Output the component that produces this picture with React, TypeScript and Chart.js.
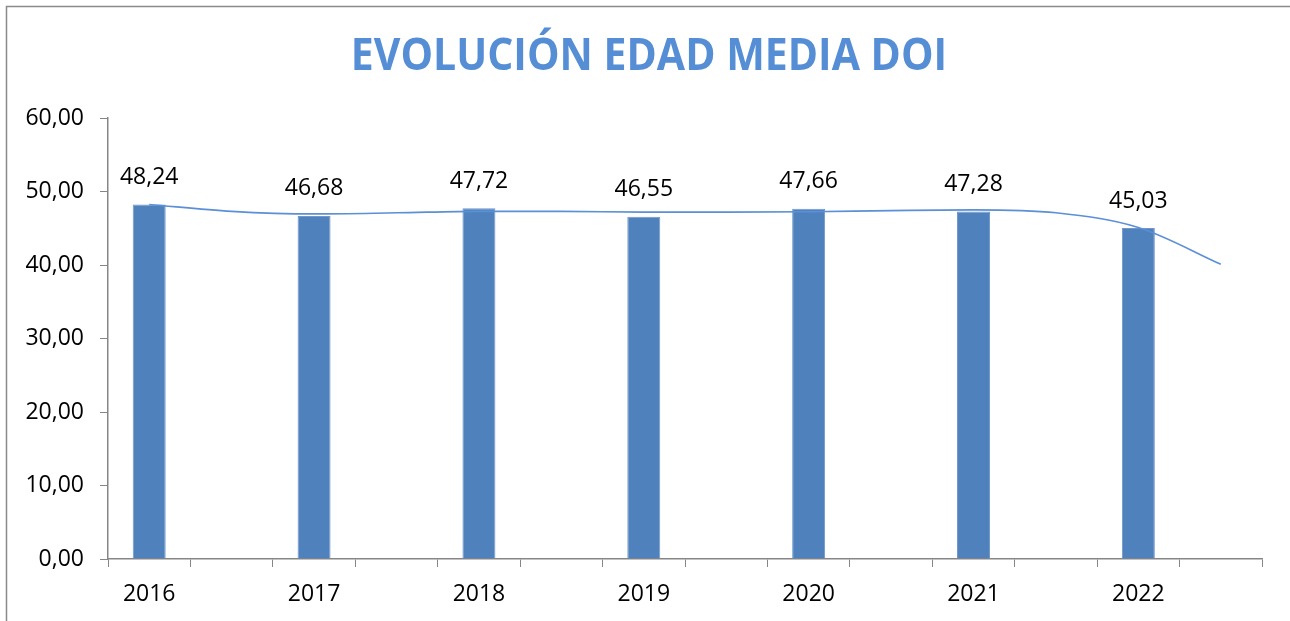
import React, { useEffect, useRef } from "react";
import { Chart, registerables } from "chart.js";

Chart.register(...registerables);

const TITLE = "EVOLUCIÓN EDAD MEDIA DOI";
// 14 category slots: each year followed by an empty slot (as in the original sheet)
const categories = ["2016", "", "2017", "", "2018", "", "2019", "", "2020", "", "2021", "", "2022", ""];
const ageValues = [48.24, null, 46.68, null, 47.72, null, 46.55, null, 47.66, null, 47.28, null, 45.03, null];
// polynomial trendline at each slot centre
const trendValues = [48.24, 47.3, 46.95, 47.1, 47.3, 47.3, 47.2, 47.2, 47.25, 47.4, 47.5, 47.1, 45.1, 40.1];
const yTicks = { min: 0, max: 60, step: 10 };

const fmt = (v: number) => v.toFixed(2).replace(".", ",");
const FONT = "'Open Sans', 'Liberation Sans', sans-serif";

const decorPlugin = {
  id: "decor",
  beforeDraw(chart: any) {
    const ctx = chart.ctx;
    ctx.save();
    ctx.fillStyle = "#ffffff";
    ctx.fillRect(0, 0, chart.width, chart.height);
    ctx.strokeStyle = "#8a8a8a";
    ctx.lineWidth = 1.5;
    ctx.strokeRect(6.5, 6.5, chart.width + 50, chart.height + 50);
    ctx.fillStyle = "#558ED5";
    ctx.font = `bold 41px ${FONT}`;
    ctx.textAlign = "center";
    ctx.textBaseline = "middle";
    ctx.translate(649, 57);
    ctx.scale(1, 1.1);
    ctx.fillText(TITLE, 0, 0);
    ctx.restore();
  },
  afterDatasetsDraw(chart: any) {
    const ctx = chart.ctx;
    const meta = chart.getDatasetMeta(0);
    const data = chart.data.datasets[0].data;
    ctx.save();
    ctx.fillStyle = "#000000";
    ctx.font = `23px ${FONT}`;
    ctx.textAlign = "center";
    ctx.textBaseline = "middle";
    meta.data.forEach((el: any, i: number) => {
      const v = data[i];
      if (v === null || v === undefined) return;
      ctx.fillText(fmt(v), el.x, el.y - 27);
    });
    ctx.restore();
  },
};

export default function App() {
  const ref = useRef<HTMLCanvasElement | null>(null);
  useEffect(() => {
    if (!ref.current) return;
    const chart = new Chart(ref.current, {
      type: "bar",
      data: {
        labels: categories,
        datasets: [
          {
            type: "bar",
            data: ageValues,
            backgroundColor: "#4F81BD",
            borderColor: "#6F97CB",
            borderWidth: 1,
            barPercentage: 0.4,
            categoryPercentage: 1,
            order: 2,
          } as any,
          {
            type: "line",
            data: trendValues,
            borderColor: "#5B8FD8",
            borderWidth: 1.6,
            pointRadius: 0,
            tension: 0.4,
            cubicInterpolationMode: "monotone",
            fill: false,
            order: 1,
          } as any,
        ],
      },
      plugins: [decorPlugin],
      options: {
        responsive: false,
        animation: false,
        layout: { padding: { top: 118, left: 0, right: 28, bottom: 0 } },
        plugins: {
          legend: { display: false },
          title: { display: false },
          tooltip: { enabled: false },
        },
        scales: {
          x: {
            offset: true,
            grid: {
              offset: true,
              drawOnChartArea: false,
              drawTicks: true,
              tickLength: 8,
              color: "#868686",
            },
            border: { display: true, color: "#868686", width: 1.5 },
            ticks: {
              autoSkip: false,
              maxRotation: 0,
              padding: 14,
              color: "#000000",
              font: { family: FONT, size: 23 },
            },
            afterFit(scale: any) {
              scale.height = 62;
            },
          },
          y: {
            min: yTicks.min,
            max: yTicks.max,
            grid: {
              drawOnChartArea: false,
              drawTicks: true,
              tickLength: 8,
              color: "#868686",
            },
            border: { display: true, color: "#868686", width: 1.5 },
            ticks: {
              stepSize: yTicks.step,
              padding: 16,
              color: "#000000",
              font: { family: FONT, size: 23 },
              callback: (v: any) => fmt(Number(v)),
            },
            afterFit(scale: any) {
              scale.width = 108;
            },
          },
        },
      } as any,
    });
    return () => chart.destroy();
  }, []);
  return (
    <div style={{ position: "absolute", left: 0, top: 0, width: 1290, height: 621 }}>
      <canvas ref={ref} width={1290} height={621} />
    </div>
  );
}
